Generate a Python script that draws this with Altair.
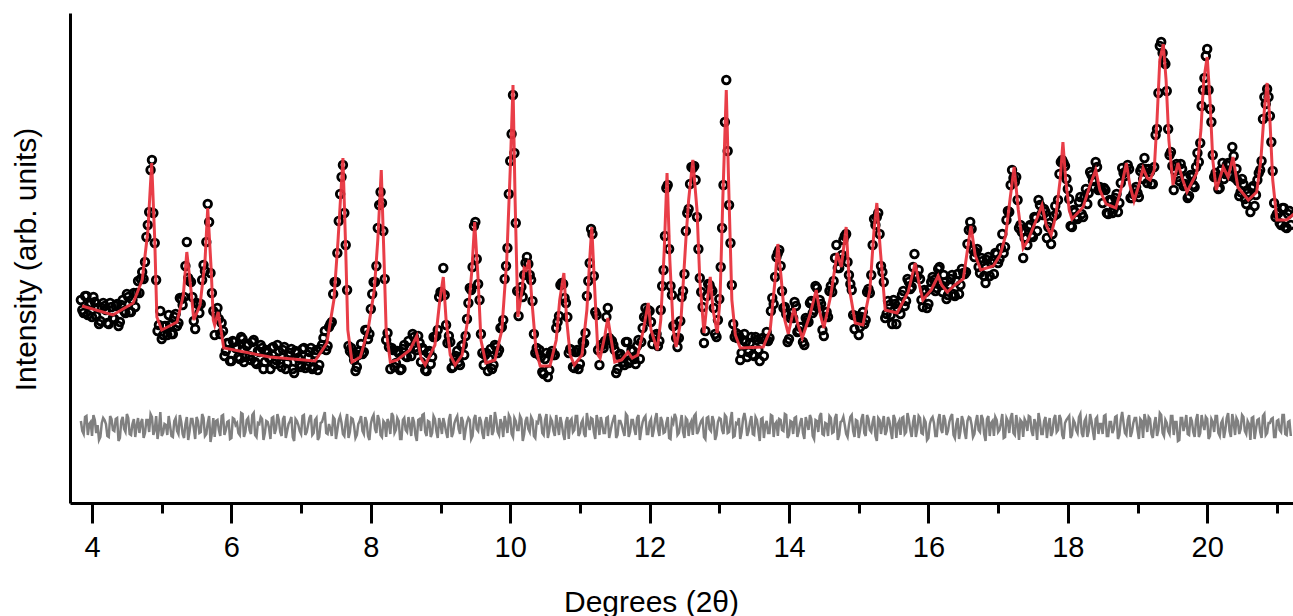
import altair as alt
import numpy as np
import pandas as pd

# ---- data (intensity in arbitrary units) ----
# observed points, sampled on two interleaved grids (0.04 deg apart each)
X_START_A = 3.84
X_START_B = 3.86
X_STEP = 0.04

obs_a = [
    203, 190, 207, 198, 186, 201, 195, 182, 200, 193,
    179, 196, 184, 199, 181, 203, 190, 206, 191, 210,
    210, 210, 231, 241, 278, 333, 290, 223, 178, 164,
    177, 168, 178, 169, 189, 180, 204, 206, 261, 222,
    206, 174, 199, 199, 238, 261, 281, 210, 168, 195,
    169, 172, 152, 160, 142, 161, 156, 144, 164, 146,
    159, 143, 163, 139, 151, 155, 141, 151, 134, 156,
    143, 152, 136, 156, 140, 150, 134, 152, 145, 136,
    155, 138, 151, 134, 149, 133, 154, 165, 153, 176,
    181, 221, 250, 309, 338, 258, 157, 155, 143, 136,
    152, 149, 173, 164, 194, 221, 237, 298, 300, 224,
    170, 134, 153, 140, 150, 134, 158, 146, 155, 169,
    156, 167, 141, 153, 132, 152, 146, 166, 173, 211,
    235, 178, 167, 135, 143, 152, 138, 158, 167, 200,
    213, 277, 244, 203, 150, 148, 132, 154, 138, 156,
    153, 176, 224, 255, 342, 408, 280, 187, 216, 228,
    246, 228, 202, 150, 149, 146, 129, 150, 133, 152,
    148, 181, 218, 219, 200, 150, 153, 135, 153, 139,
    161, 170, 222, 274, 227, 188, 138, 158, 162, 195,
    163, 158, 130, 148, 145, 138, 161, 143, 152, 139,
    163, 161, 186, 185, 192, 159, 168, 157, 193, 233,
    315, 254, 208, 178, 156, 182, 212, 272, 294, 336,
    337, 286, 225, 196, 172, 219, 214, 195, 166, 204,
    275, 381, 352, 260, 179, 170, 168, 150, 169, 146,
    160, 148, 166, 153, 164, 147, 171, 165, 205, 226,
    250, 237, 195, 189, 164, 190, 201, 171, 176, 161,
    185, 181, 202, 193, 215, 203, 173, 186, 186, 217,
    222, 258, 235, 248, 267, 241, 219, 188, 187, 168,
    186, 179, 211, 210, 258, 278, 290, 237, 221, 189,
    198, 179, 199, 194, 189, 212, 202, 221, 216, 249,
    227, 224, 196, 211, 199, 221, 223, 215, 236, 211,
    221, 208, 224, 209, 222, 209, 234, 229, 259, 281,
    253, 251, 236, 245, 227, 243, 227, 243, 250, 240,
    255, 250, 283, 291, 333, 321, 303, 278, 245, 265,
    276, 268, 286, 272, 298, 288, 291, 276, 259, 287,
    289, 329, 343, 337, 314, 277, 293, 286, 301, 289,
    306, 299, 331, 322, 341, 313, 313, 315, 290, 303,
    290, 305, 291, 320, 330, 332, 334, 305, 313, 310,
    332, 324, 334, 334, 319, 336, 374, 457, 450, 439,
    374, 351, 313, 339, 322, 334, 319, 305, 328, 318,
    336, 341, 397, 425, 454, 394, 348, 330, 314, 333,
    324, 338, 328, 356, 325, 322, 311, 319, 299, 307,
    315, 297, 323, 333, 384, 399, 406, 361, 300, 289,
    280, 295, 276, 289, 278,
]

obs_b = [
    193, 207, 188, 200, 206, 187, 179, 195, 197, 180,
    200, 185, 197, 177, 198, 192, 209, 191, 203, 196,
    222, 224, 224, 266, 291, 343, 260, 172, 192, 168,
    177, 188, 169, 186, 177, 205, 198, 237, 225, 221,
    182, 200, 190, 223, 232, 299, 230, 192, 189, 184,
    180, 147, 160, 142, 162, 155, 146, 166, 141, 157,
    147, 161, 141, 152, 158, 134, 153, 145, 155, 139,
    158, 140, 153, 134, 147, 154, 130, 150, 139, 154,
    135, 145, 155, 136, 153, 138, 158, 172, 157, 179,
    209, 221, 282, 326, 290, 213, 152, 149, 132, 148,
    159, 151, 173, 169, 209, 221, 275, 311, 272, 163,
    156, 155, 136, 152, 133, 154, 147, 162, 147, 166,
    153, 160, 155, 133, 150, 139, 166, 167, 206, 210,
    208, 160, 161, 136, 147, 141, 157, 148, 184, 215,
    236, 281, 219, 169, 138, 150, 144, 134, 158, 150,
    175, 183, 237, 309, 369, 350, 212, 211, 206, 240,
    239, 223, 169, 155, 153, 131, 144, 126, 149, 148,
    175, 187, 220, 205, 186, 154, 136, 151, 134, 151,
    160, 207, 240, 269, 191, 153, 158, 155, 186, 165,
    162, 153, 134, 149, 141, 161, 140, 153, 144, 157,
    144, 175, 195, 193, 181, 166, 169, 162, 217, 267,
    318, 217, 177, 165, 165, 206, 229, 290, 319, 335,
    323, 254, 211, 160, 207, 218, 212, 169, 183, 236,
    318, 423, 298, 218, 166, 165, 143, 163, 161, 151,
    166, 147, 163, 142, 165, 163, 162, 192, 199, 246,
    253, 212, 196, 161, 185, 185, 197, 172, 176, 158,
    183, 200, 190, 217, 196, 199, 167, 191, 212, 211,
    245, 235, 243, 263, 269, 228, 213, 174, 186, 176,
    191, 183, 214, 228, 284, 286, 269, 231, 185, 202,
    188, 203, 179, 200, 208, 197, 224, 214, 236, 226,
    233, 203, 213, 195, 214, 226, 212, 234, 218, 228,
    204, 218, 228, 207, 229, 218, 230, 231, 273, 274,
    246, 254, 230, 242, 220, 246, 240, 229, 249, 244,
    269, 256, 292, 318, 325, 326, 275, 271, 265, 258,
    278, 266, 285, 303, 289, 294, 265, 280, 269, 297,
    303, 341, 340, 324, 304, 276, 291, 284, 306, 286,
    314, 310, 328, 316, 336, 316, 300, 313, 289, 302,
    294, 309, 300, 335, 327, 338, 305, 309, 316, 306,
    335, 345, 320, 331, 319, 368, 410, 461, 441, 412,
    348, 337, 332, 326, 339, 317, 325, 307, 326, 316,
    350, 360, 413, 447, 413, 381, 326, 326, 315, 340,
    329, 340, 327, 347, 334, 307, 324, 304, 310, 291,
    317, 308, 330, 342, 406, 414, 387, 332, 286, 290,
    278, 295, 275, 292,
]

# residuals (observed - calculated) on the same two grids
diff_a = [
    6, -7, 11, 3, -9, 7, 2, -10, 9, 3,
    -10, 8, -4, 9, -11, 10, -5, 9, -8, 8,
    1, -6, 8, -6, 7, 13, -8, 11, -2, -9,
    3, -8, 1, -10, 9, -7, 5, -11, 10, -4,
    8, -12, 6, -5, 9, -7, 11, -6, -10, 7,
    -9, 12, -3, 6, -11, 8, 4, -8, 13, -5,
    9, -7, 14, -10, 3, 8, -6, 5, -12, 10,
    -2, 7, -9, 11, -4, 6, -10, 8, 2, -7,
    12, -5, 9, -8, 7, -13, 4, 10, -6, 3,
    -9, 8, -3, 11, -7, 5, -11, 9, 1, -8,
    6, -4, 10, -9, 3, 12, -6, 7, -10, 4,
    8, -7, 11, -3, 6, -12, 9, -5, 2, 10,
    -8, 7, -4, 13, -9, 5, -6, 8, -11, 3,
    9, -5, 7, -10, 4, 11, -7, 6, -3, 9,
    -12, 8, -2, 10, -6, 5, -9, 12, -4, 7,
    -8, 3, 11, -6, 9, -10, 6, -3, 8, -7,
    10, -5, 7, -11, 4, 9, -8, 13, -4, 6,
    -9, 2, 10, -7, 5, -12, 8, -3, 11, -6,
    7, -10, 4, 9, -5, 12, -8, 3, -6, 10,
    -4, 8, -11, 6, 2, -9, 11, -5, 7, -8,
    12, -3, 9, -7, 5, -10, 8, -2, 10, -6,
    4, -11, 7, 13, -8, 3, -5, 9, -9, 6,
    11, -7, 2, 8, -12, 10, -4, 6, -8, 9,
    -3, 12, -6, 7, -10, 4, 9, -5, 14, -9,
    5, -7, 10, -3, 8, -11, 6, -6, 11, 3,
    -9, 7, -4, 12, -8, 5, 9, -10, 4, -6,
    10, -3, 8, -12, 6, 11, -7, 4, -9, 9,
    -5, 13, -8, 6, 2, -10, 10, -4, 7, -11,
    8, -6, 12, -3, 5, -9, 9, -7, 11, -4,
    6, -12, 8, 3, -8, 10, -5, 7, -10, 12,
    -2, 9, -7, 5, -11, 8, 4, -9, 13, -6,
    7, -4, 10, -8, 3, -12, 11, -5, 6, 9,
    -10, 5, -3, 12, -7, 8, -9, 6, 10, -5,
    4, -11, 9, -6, 14, -8, 3, 7, -10, 5,
    11, -4, 8, -13, 6, -7, 10, 2, -9, 8,
    -5, 12, -8, 4, 9, -11, 7, -3, 10, -6,
    6, -10, 13, -4, 8, -7, 3, 11, -9, 5,
    -6, 10, -12, 7, 4, -8, 12, -5, 9, -3,
    8, -11, 6, 10, -7, 3, -9, 14, -6, 7,
    -4, 11, -8, 5, -13, 9, 2, -7, 10, -5,
    7, -10, 12, -3, 8, -9, 5, 11, -6, 4,
    -11, 9, -4, 13, -8, 6, -2, 10, -7, 3,
    9, -12, 7, -5, 11, -8, 4, 8, -10, 6,
    -3, 12, -7, 5, -9,
]

diff_b = [
    -4, 10, -8, 5, 12, -6, -13, 4, 7, -9,
    11, -3, 8, -14, 6, -2, 13, -7, 3, -10,
    9, 4, -11, 7, -5, 10, -3, -12, 15, -6,
    2, 11, -9, 6, -4, 12, -7, 3, -13, 8,
    -1, 10, -6, 13, -9, 4, -15, 9, 6, -3,
    11, -8, 5, -12, 9, 2, -6, 14, -10, 7,
    -3, 12, -8, 4, 10, -13, 6, -1, 9, -7,
    13, -5, 8, -11, 3, 10, -14, 6, -4, 11,
    -8, 2, 12, -6, 9, -10, 5, 15, -7, -2,
    10, -12, 7, 4, -9, 13, -5, 8, -11, 3,
    11, -7, 5, -13, 9, -2, 12, -8, 6, -10,
    4, 14, -6, 9, -12, 7, -3, 10, -9, 5,
    -14, 8, 12, -5, 6, -10, 11, -4, 9, -7,
    3, -11, 13, -6, 8, -2, 10, -13, 5, 7,
    -9, 12, -4, 6, -12, 10, 3, -8, 15, -5,
    8, -10, 4, 12, -7, 9, -3, 11, -14, 6,
    -2, 10, -9, 5, 13, -6, 7, -11, 9, -4,
    12, -8, 3, -13, 10, 6, -5, 11, -9, 4,
    -7, 14, -3, 8, -12, 5, 10, -6, 9, -11,
    3, 12, -8, 6, -4, 13, -10, 7, -2, 9,
    -13, 5, 11, -7, 8, -3, 14, -9, 6, -5,
    10, -12, 4, 9, -6, 12, -11, 7, 3, -8,
    13, -4, 6, -10, 9, -2, 11, -13, 5, 8,
    -7, 10, -5, 15, -9, 3, -12, 8, 6, -4,
    11, -8, 7, -14, 9, 2, -6, 12, -10, 5,
    8, -3, 13, -11, 6, -7, 10, -4, 9, -12,
    4, 12, -9, 7, -5, 14, -8, 3, 11, -6,
    9, -13, 5, 10, -7, 2, 12, -10, 6, -3,
    13, -9, 8, -5, 11, -14, 7, 4, -8, 10,
    -4, 12, -11, 6, 9, -7, 14, -3, 5, -10,
    11, -6, 8, -13, 3, 10, -9, 7, -2, 12,
    -8, 5, 13, -11, 9, -4, 6, -12, 10, 2,
    -7, 12, -5, 8, -14, 11, 4, -9, 7, -3,
    13, -10, 6, 9, -6, 12, -13, 5, 8, -4,
    10, -9, 3, 14, -7, 6, -11, 9, -5, 12,
    -3, 8, -12, 7, 11, -8, 4, -6, 13, -10,
    9, -4, 6, -13, 10, 3, -7, 12, -9, 5,
    -2, 11, -8, 15, -6, 7, -10, 4, 9, -12,
    6, 13, -5, 8, -11, 10, -3, 12, -9, 4,
    -7, 11, 5, -14, 9, -4, 12, -8, 6, -10,
    13, -6, 3, 10, -12, 8, -5, 11, -9, 7,
    -3, 14, -10, 5, 9, -7, 12, -4, 6, -13,
    10, -2, 8, -11, 13, -6, 4, 9, -10, 7,
    -5, 12, -8, 6,
]

# calculated profile (red line), vertices
calc_x = [
    3.857, 4.30, 4.59, 4.72, 4.80, 4.856, 4.90, 4.93, 5.00, 5.22,
    5.31, 5.36, 5.42, 5.46, 5.55, 5.62, 5.66, 5.71, 5.74, 5.76,
    5.81, 5.85, 5.89, 6.55, 7.20, 7.37, 7.47, 7.53, 7.60, 7.64,
    7.67, 7.73, 7.85, 7.96, 8.05, 8.10, 8.15, 8.19, 8.22, 8.28,
    8.38, 8.56, 8.66, 8.72, 8.78, 8.92, 8.99, 9.04, 9.08, 9.14,
    9.21, 9.31, 9.39, 9.45, 9.49, 9.54, 9.58, 9.65, 9.78, 9.88,
    9.95, 10.00, 10.04, 10.07, 10.11, 10.17, 10.20, 10.23, 10.27, 10.31,
    10.37, 10.43, 10.57, 10.66, 10.71, 10.77, 10.81, 10.86, 10.92, 11.03,
    11.10, 11.14, 11.17, 11.22, 11.26, 11.29, 11.36, 11.40, 11.45, 11.50,
    11.60, 11.69, 11.75, 11.83, 11.91, 11.98, 12.02, 12.11, 12.16, 12.21,
    12.25, 12.29, 12.34, 12.38, 12.45, 12.52, 12.56, 12.62, 12.68, 12.72,
    12.78, 12.82, 12.87, 12.91, 12.97, 13.01, 13.05, 13.10, 13.14, 13.18,
    13.23, 13.30, 13.63, 13.73, 13.80, 13.84, 13.89, 13.94, 13.99, 14.07,
    14.13, 14.19, 14.30, 14.39, 14.45, 14.50, 14.60, 14.69, 14.75, 14.82,
    14.87, 14.95, 15.06, 15.16, 15.22, 15.26, 15.31, 15.38, 15.55, 15.71,
    15.81, 15.87, 15.92, 16.04, 16.14, 16.19, 16.27, 16.38, 16.50, 16.55,
    16.61, 16.67, 16.75, 16.93, 17.03, 17.11, 17.17, 17.23, 17.29, 17.36,
    17.43, 17.50, 17.56, 17.63, 17.69, 17.76, 17.83, 17.89, 17.93, 17.97,
    18.02, 18.06, 18.22, 18.32, 18.40, 18.46, 18.55, 18.69, 18.76, 18.84,
    18.89, 18.95, 19.02, 19.08, 19.14, 19.18, 19.24, 19.28, 19.32, 19.37,
    19.41, 19.45, 19.51, 19.58, 19.65, 19.71, 19.85, 19.91, 19.95, 20.00,
    20.04, 20.08, 20.13, 20.23, 20.30, 20.37, 20.44, 20.59, 20.71, 20.77,
    20.82, 20.86, 20.90, 20.94, 21.00, 21.14, 21.26,
]
calc_y = [
    197, 188, 200, 223, 271, 340, 263, 186, 173, 181,
    208, 251, 213, 183, 198, 241, 295, 233, 183, 178,
    191, 173, 155, 146, 142, 160, 203, 263, 345, 253,
    173, 141, 146, 173, 213, 263, 333, 243, 173, 141,
    143, 153, 167, 145, 138, 158, 203, 226, 183, 148,
    138, 148, 183, 233, 281, 223, 163, 140, 143, 173,
    243, 333, 418, 303, 186, 213, 235, 233, 243, 203,
    153, 137, 137, 163, 203, 230, 183, 148, 138, 148,
    193, 243, 276, 203, 148, 145, 168, 185, 163, 141,
    143, 151, 145, 148, 173, 200, 173, 153, 183, 253,
    330, 243, 173, 156, 183, 263, 303, 343, 293, 223,
    170, 198, 226, 193, 170, 203, 303, 413, 303, 203,
    168, 155, 156, 173, 223, 259, 223, 183, 169, 195,
    178, 165, 188, 213, 188, 175, 208, 250, 236, 276,
    213, 180, 178, 213, 273, 300, 253, 193, 190, 211,
    240, 218, 203, 213, 227, 218, 211, 218, 224, 248,
    277, 248, 233, 237, 248, 268, 303, 336, 293, 255,
    263, 275, 285, 298, 278, 268, 288, 323, 361, 323,
    293, 284, 296, 318, 333, 313, 299, 295, 313, 340,
    318, 302, 318, 335, 325, 323, 333, 383, 443, 459,
    423, 363, 318, 340, 323, 311, 330, 373, 423, 446,
    403, 343, 313, 336, 326, 346, 316, 303, 311, 343,
    393, 420, 383, 323, 283, 283, 290,
]

major_ticks = [4, 6, 8, 10, 12, 14, 16, 18, 20]
minor_ticks = [5, 7, 9, 11, 13, 15, 17, 19, 21]

DIFF_OFFSET = 76  # vertical offset of the difference curve below the pattern

xa = np.round(X_START_A + X_STEP * np.arange(len(obs_a)), 2)
xb = np.round(X_START_B + X_STEP * np.arange(len(obs_b)), 2)

obs_df = pd.DataFrame({"x": np.concatenate([xa, xb]), "y": obs_a + obs_b})
diff_df = (
    pd.DataFrame({"x": np.concatenate([xa, xb]),
                  "y": np.array(diff_a + diff_b) + DIFF_OFFSET})
    .sort_values("x")
    .reset_index(drop=True)
)
diff_df["order"] = np.arange(len(diff_df))
calc_df = pd.DataFrame({"x": calc_x, "y": calc_y})

FONT = "Liberation Sans"
xscale = alt.Scale(domain=[3.684, 21.231], nice=False, zero=False)
yscale = alt.Scale(domain=[0, 490], nice=False, zero=False)

x_main = alt.X(
    "x:Q", scale=xscale,
    axis=alt.Axis(
        orient="bottom", values=major_ticks, format="d", tickSize=20, tickWidth=3,
        tickColor="black", domainWidth=3, domainColor="black", labelFont=FONT,
        labelFontSize=29, labelColor="black", labelPadding=10, labelFlush=False,
        grid=False, title="Degrees (2θ)", titleFont=FONT, titleFontSize=30,
        titleFontWeight="normal", titleColor="black", titleX=581, titleY=108,
        titleAlign="center", titleBaseline="alphabetic",
    ),
)
y_main = alt.Y(
    "y:Q", scale=yscale,
    axis=alt.Axis(
        orient="left", ticks=False, labels=False, grid=False, domainWidth=3,
        domainColor="black", title="Intensity (arb. units)", titleFont=FONT,
        titleFontSize=30, titleFontWeight="normal", titleColor="black",
        titleX=-35, titleY=246, titleAngle=270, titleAlign="center",
        titleBaseline="alphabetic",
    ),
)

obs = alt.Chart(obs_df).mark_point(
    shape="circle", filled=False, color="black", strokeWidth=2.8, size=58,
    clip=True, opacity=1,
).encode(x=x_main, y=y_main)

minor = alt.Chart(obs_df).mark_point(opacity=0, clip=True).encode(
    x=alt.X("x:Q", scale=xscale,
            axis=alt.Axis(orient="bottom", values=minor_ticks, labels=False,
                          tickSize=10, tickWidth=3, tickColor="black",
                          domain=False, grid=False, title=None)),
    y=y_main,
)

calc = alt.Chart(calc_df).mark_line(
    color="#e8343e", strokeWidth=3, clip=True, opacity=0.95
).encode(
    x=alt.X("x:Q", scale=xscale, axis=None),
    y=y_main,
)

diff = alt.Chart(diff_df).mark_line(color="#808080", strokeWidth=2.5, clip=True).encode(
    x=alt.X("x:Q", scale=xscale, axis=None),
    y=y_main,
    order="order:Q",
)

chart = (
    alt.layer(obs, minor, calc, diff)
    .resolve_axis(x="independent")
    .properties(
        width=1223, height=490,
        padding={"left": 70, "top": 13, "right": 0, "bottom": 113},
        autosize=alt.AutoSizeParams(type="none"),
        background="white",
    )
    .configure_view(stroke=None)
)

chart.save("out.html", embed_options={"renderer": "svg", "actions": False})
